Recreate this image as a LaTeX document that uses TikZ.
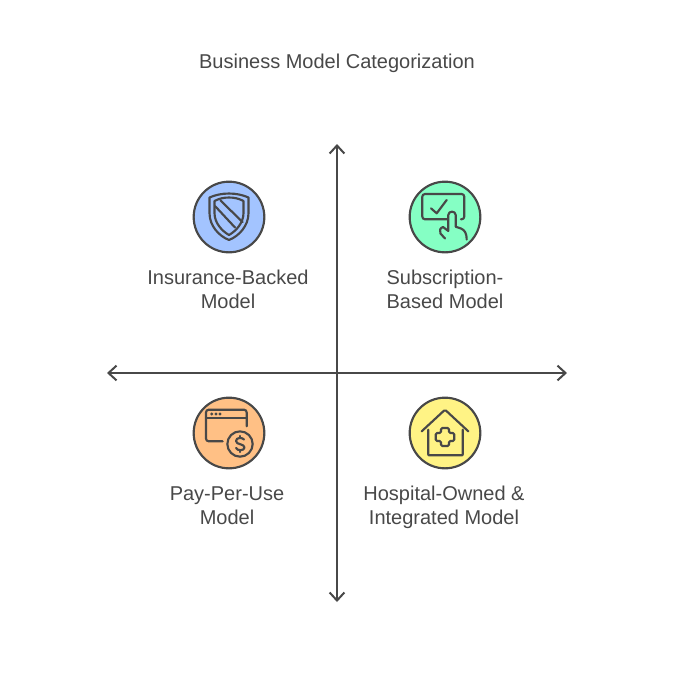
\documentclass[tikz,border=0pt]{standalone}
\usepackage{fontspec}
\setmainfont{Liberation Sans}
\usetikzlibrary{arrows.meta}
\definecolor{inkgray}{HTML}{484848}
\definecolor{insureblue}{HTML}{A3C4FF}
\definecolor{subgreen}{HTML}{85FFC4}
\definecolor{payorange}{HTML}{FFC085}
\definecolor{hospyellow}{HTML}{FFF385}
\begin{document}
\begin{tikzpicture}
[x=0.75pt, y=-0.75pt,
 axisline/.style={draw=inkgray, line width=1.5pt, {Straight Barb[length=6pt,width=11pt]}-{Straight Barb[length=6pt,width=11pt]}},
 badgenode/.style={circle, draw=inkgray, line width=1.6pt, minimum size=53pt, inner sep=0pt},
 labelnode/.style={text=inkgray, font=\fontsize{15}{18}\selectfont, align=center, inner sep=0pt},
 iconline/.style={draw=inkgray, line width=1.6pt, line cap=round, line join=round, rounded corners=2pt}]
\useasboundingbox (0,0) rectangle (674,686);
\node[labelnode] (title) at (337,63.5) {Business Model Categorization};

\coordinate (top) at (337,144);
\coordinate (bottom) at (337,602);
\coordinate (left) at (107,373);
\coordinate (right) at (567,373);
\draw[axisline] (top) -- (bottom);
\draw[axisline] (left) -- (right);

\node[badgenode, fill=insureblue] (insurance) at (229,217) {};
\node[badgenode, fill=subgreen] (subscription) at (445,217) {};
\node[badgenode, fill=payorange] (payuse) at (229,433) {};
\node[badgenode, fill=hospyellow] (hospital) at (445,433) {};

\node[labelnode] (insurancetext) at (228,289) {Insurance-Backed\\Model};
\node[labelnode] (subscriptiontext) at (445,289) {Subscription-\\Based Model};
\node[labelnode] (payusetext) at (227,506) {Pay-Per-Use\\Model};
\node[labelnode] (hospitaltext) at (444,507) {Hospital-Owned \&\\Integrated Model};

% shield
\draw[iconline, rounded corners=0pt] (229,193.5) .. controls (236,193.5) and (243,195) .. (248.5,197.5) -- (248.5,213) .. controls (248.5,226) and (239,236) .. (229,240) .. controls (219,236) and (209.5,226) .. (209.5,213) -- (209.5,197.5) .. controls (215,195) and (222,193.5) .. (229,193.5) -- cycle;
\draw[iconline, rounded corners=0pt] (229,197.5) .. controls (234,197.5) and (239,198.5) .. (243.5,201) -- (243.5,213) .. controls (243.5,223) and (236,231) .. (229,235) .. controls (222,231) and (214.5,223) .. (214.5,213) -- (214.5,201) .. controls (219,198.5) and (224,197.5) .. (229,197.5) -- cycle;
\draw[iconline] (215,206) -- (235,227.5);
\draw[iconline] (220.5,200.5) -- (242.5,222);

% touch screen
\draw[iconline] (448,219.3) -- (422.3,219.3) -- (422.3,194) -- (464.3,194) -- (464.3,219.3) -- (461,219.3);
\draw[iconline, rounded corners=0pt] (431,208.3) -- (436.7,213.3) -- (446.7,200);
\draw[iconline, rounded corners=0pt] (445,238.5) -- (440.5,233.5) .. controls (439,231) and (440,228) .. (443,227) -- (448.3,231) -- (448.3,215) .. controls (448.3,210.5) and (455.7,210.5) .. (455.7,215) -- (455.7,226.7) -- (461,228.5) .. controls (465,230) and (466.7,234) .. (466.7,239.5);

% browser with coin
\draw[iconline] (222.7,441.3) -- (206,441.3) -- (206,409.7) -- (246.7,409.7) -- (246.7,426.3);
\draw[iconline] (206,418) -- (246.7,418);
\foreach \dotx in {211.7,216,220}
  \fill[inkgray] (\dotx,414) circle (1.2pt);
\node[circle, draw=inkgray, line width=1.6pt, minimum size=19pt, inner sep=0pt] (coin) at (240,444) {};
\draw[iconline, rounded corners=0pt] (244,439.5) .. controls (243,437.5) and (236,437) .. (236,441) .. controls (236,445) and (244.5,443.5) .. (244.5,447.5) .. controls (244.5,451) and (237,451) .. (236,448);
\draw[iconline] (240,436) -- (240,438);
\draw[iconline] (240,450) -- (240,452);

% house with cross
\draw[iconline, rounded corners=1pt] (421.7,431.3) -- (445,409.7) -- (468.3,431.3);
\draw[iconline, rounded corners=0.5pt] (428.3,429.7) -- (428.3,455.3) -- (462.7,455.3) -- (462.7,429.7);
\draw[iconline, rounded corners=1pt] (441,428) -- (449,428) -- (449,433) -- (454.3,433) -- (454.3,441) -- (449,441) -- (449,446) -- (441,446) -- (441,441) -- (435.7,441) -- (435.7,433) -- (441,433) -- cycle;
\end{tikzpicture}
\end{document}
